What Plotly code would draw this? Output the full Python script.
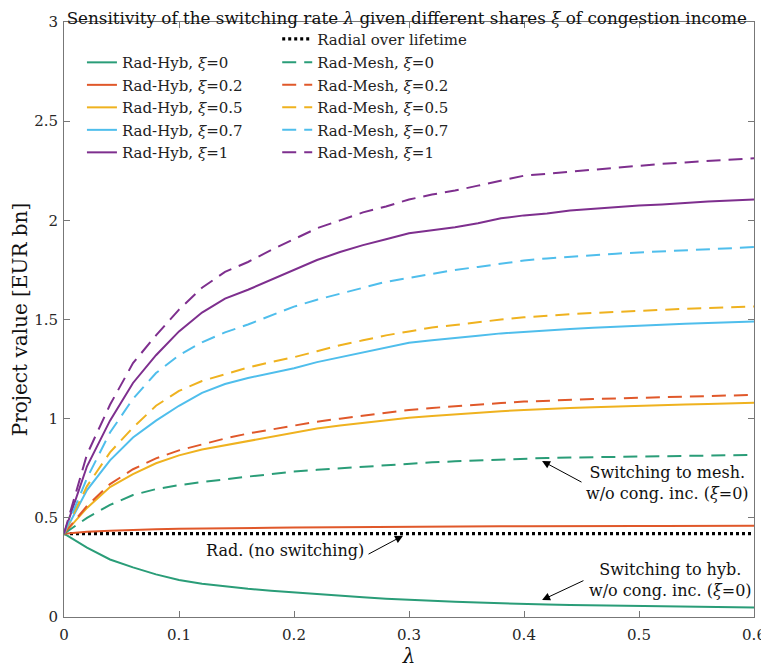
import plotly.graph_objects as go

lam = [0, 0.02, 0.04, 0.06, 0.08, 0.1, 0.12, 0.14, 0.16, 0.18, 0.2, 0.22, 0.24, 0.26, 0.28, 0.3,
       0.32, 0.34, 0.36, 0.38, 0.4, 0.42, 0.44, 0.46, 0.48, 0.5, 0.52, 0.54, 0.56, 0.58, 0.6]

hyb_0 = [0.42, 0.35, 0.29, 0.25, 0.215, 0.187, 0.168, 0.154, 0.142, 0.132, 0.123, 0.114, 0.106,
         0.099, 0.092, 0.086, 0.081, 0.077, 0.073, 0.069, 0.066, 0.063, 0.061, 0.059, 0.057,
         0.055, 0.053, 0.051, 0.05, 0.049, 0.048]
hyb_02 = [0.42, 0.43, 0.435, 0.44, 0.443, 0.445, 0.447, 0.448, 0.449, 0.45, 0.451, 0.452, 0.453,
          0.453, 0.454, 0.455, 0.455, 0.456, 0.456, 0.457, 0.457, 0.458, 0.458, 0.458, 0.459,
          0.459, 0.459, 0.46, 0.46, 0.46, 0.46]
hyb_05 = [0.42, 0.55, 0.655, 0.72, 0.775, 0.815, 0.845, 0.866, 0.888, 0.91, 0.93, 0.95, 0.965,
          0.978, 0.993, 1.005, 1.013, 1.022, 1.03, 1.038, 1.044, 1.05, 1.054, 1.058, 1.062,
          1.065, 1.068, 1.071, 1.074, 1.077, 1.08]
hyb_07 = [0.42, 0.64, 0.79, 0.905, 0.99, 1.065, 1.13, 1.175, 1.205, 1.228, 1.254, 1.285, 1.31,
          1.335, 1.36, 1.383, 1.395, 1.405, 1.418, 1.43, 1.438, 1.445, 1.452, 1.458, 1.464,
          1.469, 1.474, 1.478, 1.482, 1.486, 1.49]
hyb_1 = [0.42, 0.76, 0.99, 1.18, 1.32, 1.44, 1.535, 1.605, 1.65, 1.7, 1.75, 1.8, 1.84, 1.875,
         1.905, 1.935, 1.95, 1.965, 1.985, 2.01, 2.025, 2.035, 2.05, 2.058, 2.068, 2.075, 2.08,
         2.088, 2.095, 2.1, 2.105]

mesh_0 = [0.42, 0.5, 0.565, 0.615, 0.645, 0.665, 0.68, 0.695, 0.708, 0.72, 0.733, 0.742, 0.75,
          0.758, 0.767, 0.775, 0.78, 0.785, 0.79, 0.795, 0.8, 0.802, 0.804, 0.806, 0.808, 0.81,
          0.812, 0.813, 0.815, 0.816, 0.817]
mesh_02 = [0.42, 0.56, 0.67, 0.745, 0.8, 0.84, 0.87, 0.9, 0.925, 0.945, 0.965, 0.985, 1.0, 1.015,
           1.03, 1.044, 1.054, 1.063, 1.071, 1.079, 1.086, 1.091, 1.095, 1.099, 1.102, 1.105,
           1.108, 1.111, 1.114, 1.117, 1.12]
mesh_05 = [0.42, 0.66, 0.83, 0.955, 1.065, 1.14, 1.19, 1.225, 1.258, 1.285, 1.31, 1.34, 1.37, 1.395,
           1.42, 1.44, 1.46, 1.472, 1.487, 1.5, 1.511, 1.52, 1.527, 1.533, 1.539, 1.544, 1.549,
           1.554, 1.558, 1.562, 1.566]
mesh_07 = [0.42, 0.7, 0.93, 1.1, 1.23, 1.32, 1.385, 1.435, 1.475, 1.52, 1.565, 1.6, 1.63, 1.66,
           1.69, 1.71, 1.73, 1.75, 1.765, 1.782, 1.797, 1.808, 1.817, 1.825, 1.832, 1.838,
           1.844, 1.85, 1.855, 1.86, 1.865]
mesh_1 = [0.42, 0.82, 1.07, 1.28, 1.42, 1.55, 1.66, 1.74, 1.79, 1.85, 1.905, 1.96, 2.0, 2.04,
          2.07, 2.105, 2.13, 2.15, 2.175, 2.2, 2.225, 2.235, 2.245, 2.255, 2.268, 2.278, 2.285,
          2.292, 2.3, 2.307, 2.313]

radial_value = 0.42

xi_labels = ["0", "0.2", "0.5", "0.7", "1"]
hyb_series = [hyb_0, hyb_02, hyb_05, hyb_07, hyb_1]
mesh_series = [mesh_0, mesh_02, mesh_05, mesh_07, mesh_1]
colors = ["#2a9d78", "#e0582a", "#efb21f", "#4fbeec", "#7e2f8e"]

x_ticks = [0, 0.1, 0.2, 0.3, 0.4, 0.5, 0.6]
x_tick_labels = ["0", "0.1", "0.2", "0.3", "0.4", "0.5", "0.6"]
y_ticks = [0, 0.5, 1, 1.5, 2, 2.5, 3]
y_tick_labels = ["0", "0.5", "1", "1.5", "2", "2.5", "3"]

FONT = "DejaVu Serif"

fig = go.Figure()

fig.add_trace(go.Scatter(x=[lam[0], lam[-1]], y=[radial_value, radial_value], mode="lines",
                         name="Radial over lifetime", legend="legend2",
                         line=dict(color="black", width=3.2, dash="3px,3px")))

for lab, ys, c in zip(xi_labels, hyb_series, colors):
    fig.add_trace(go.Scatter(x=lam, y=ys, mode="lines", name=f"Rad-Hyb, <i>ξ</i>={lab}",
                             legend="legend", line=dict(color=c, width=2)))
for lab, ys, c in zip(xi_labels, mesh_series, colors):
    fig.add_trace(go.Scatter(x=lam, y=ys, mode="lines", name=f"Rad-Mesh, <i>ξ</i>={lab}",
                             legend="legend3", line=dict(color=c, width=2, dash="14px,8px")))

leg_common = dict(font=dict(family=FONT, size=15, color="#222"), bgcolor="rgba(0,0,0,0)",
                  xanchor="left", yanchor="top", tracegroupgap=0)

# the page adds an 8px body margin, so the figure is sized/margined to compensate
fig.update_layout(
    width=761, height=662,
    margin=dict(l=56, r=15, t=14, b=53),
    plot_bgcolor="white", paper_bgcolor="white",
    font=dict(family=FONT, size=16, color="#262626"),
    title=dict(text="Sensitivity of the switching rate <i>λ</i> given different shares <i>ξ</i> of congestion income",
               x=0.524, xanchor="center", y=1 - 10 / 662, yanchor="middle", yref="container",
               font=dict(family=FONT, size=16.8, color="#111")),
    legend=dict(x=0.026, y=0.9595, **leg_common),
    legend2=dict(x=0.309, y=0.999, **leg_common),
    legend3=dict(x=0.309, y=0.9595, **leg_common),
    xaxis=dict(range=[0, 0.6], tickvals=x_ticks, ticktext=x_tick_labels,
               ticks="inside", ticklen=6, tickcolor="#777", showline=True, linecolor="#777",
               linewidth=1, mirror="ticks", showgrid=False, zeroline=False, automargin=False,
               ticklabelstandoff=4,
               title=dict(text="<i>λ</i>", font=dict(family=FONT, size=20, color="#111"), standoff=2),
               tickfont=dict(family=FONT, size=15, color="#262626")),
    yaxis=dict(range=[0, 3], tickvals=y_ticks, ticktext=y_tick_labels,
               ticks="inside", ticklen=6, tickcolor="#777", showline=True, linecolor="#777",
               linewidth=1, mirror="ticks", showgrid=False, zeroline=False, automargin=False,
               ticklabelstandoff=2,
               title=dict(text="Project value [EUR bn]", font=dict(family=FONT, size=20, color="#111"),
                          standoff=10),
               tickfont=dict(family=FONT, size=15, color="#262626")),
)

ann_font = dict(family=FONT, size=16, color="#111")
fig.add_annotation(x=0.192, y=0.333, text="Rad. (no switching)", showarrow=False, font=ann_font)
fig.add_annotation(x=0.525, y=0.676, text="Switching to mesh.<br>w/o cong. inc. (<i>ξ</i>=0)",
                   showarrow=False, font=ann_font)
fig.add_annotation(x=0.527, y=0.187, text="Switching to hyb.<br>w/o cong. inc. (<i>ξ</i>=0)",
                   showarrow=False, font=ann_font)
for (hx, hy, tx, ty) in [(0.2948, 0.41, 0.2635, 0.313),
                         (0.4157, 0.787, 0.4513, 0.676),
                         (0.4157, 0.0857, 0.453, 0.187)]:
    fig.add_annotation(x=hx, y=hy, ax=tx, ay=ty, axref="x", ayref="y", xref="x", yref="y",
                       text="", showarrow=True, arrowhead=2, arrowsize=1.6, arrowwidth=1,
                       arrowcolor="black")

fig.write_html("out.html")
